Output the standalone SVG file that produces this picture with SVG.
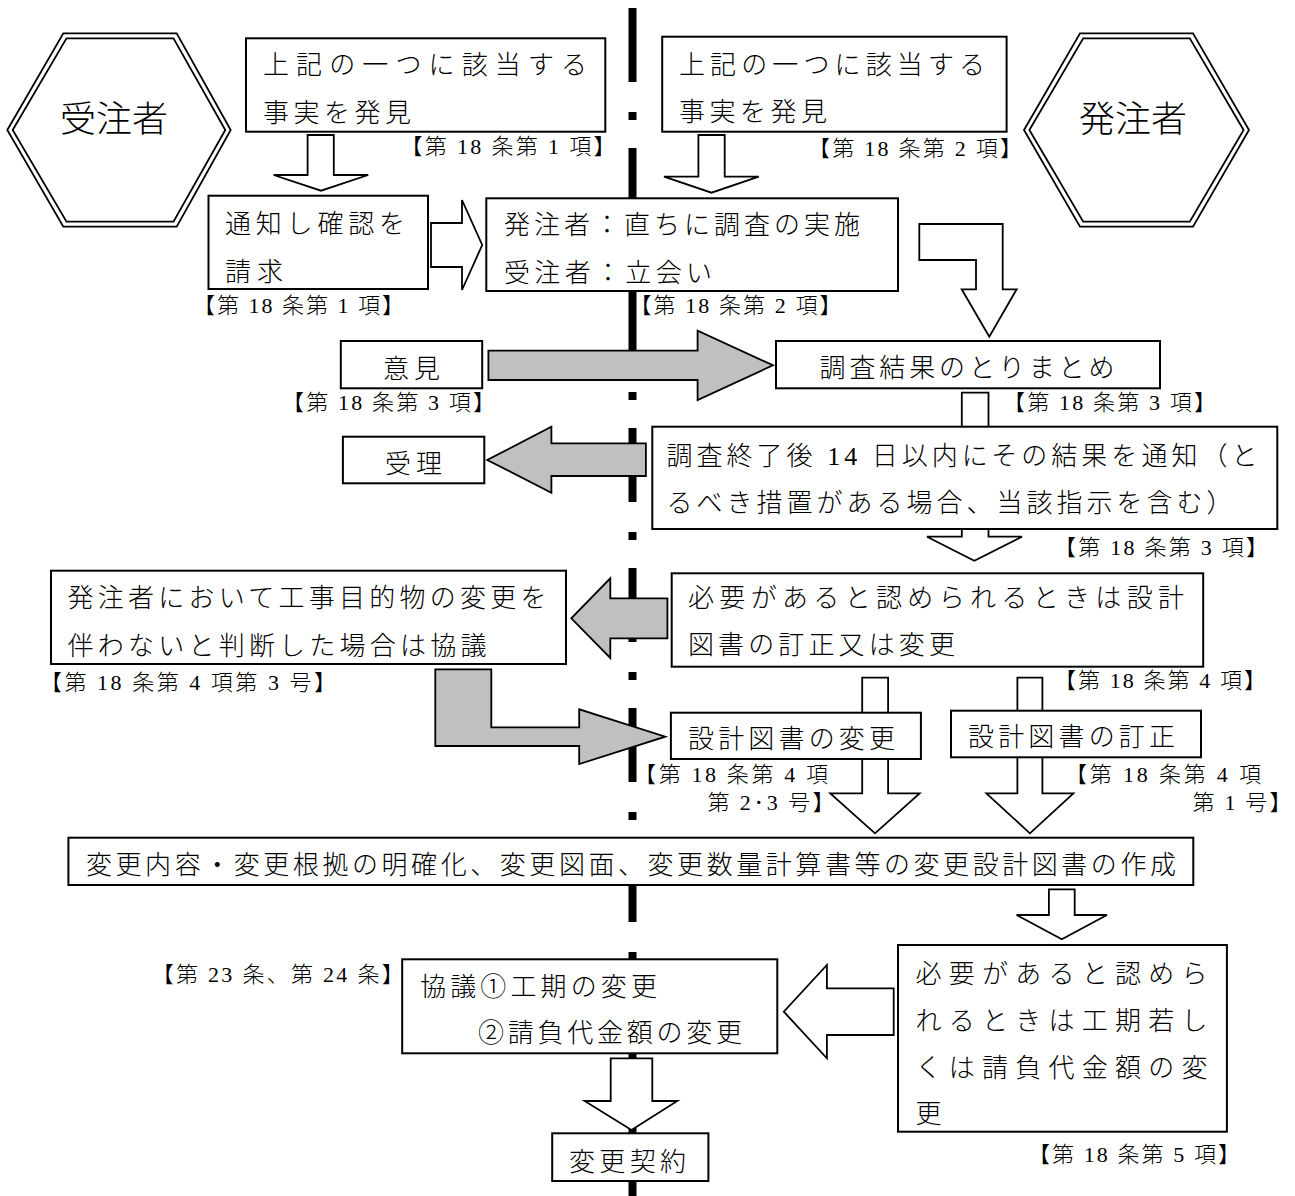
<svg xmlns="http://www.w3.org/2000/svg" width="1295" height="1196" viewBox="0 0 1295 1196">
<style>
.box{fill:#fff;stroke:#000;stroke-width:2}
.hex{fill:#fff;stroke:#000;stroke-width:1.8}
.hexi{fill:none;stroke:#000;stroke-width:1.8}
.hollow{fill:#fff;stroke:#000;stroke-width:1.8}
.gray{fill:#c0c0c0;stroke:#000;stroke-width:1.8}
text{font-family:"Liberation Serif","Noto Sans CJK JP",serif;fill:#000;font-weight:300}
.t{font-size:26px}
.l{font-size:22px}
.h{font-size:36px}
</style>
<g id="divider">
<line x1="632.5" y1="8" x2="632.5" y2="1196" stroke="#000" stroke-width="8" stroke-dasharray="74 30 8 28"/>
</g>
<g id="connectors">
<polygon class="hollow" points="307.6,135 333.8,135 333.8,175 368.2,175 321,190.7 273.6,175 307.6,175"/>
<polygon class="hollow" points="698.4,135 724.7,135 724.7,176.7 758.8,176.7 711.5,192.7 664,176.7 698.4,176.7"/>
<polygon class="hollow" points="431,223 462,223 462,200 482.2,245 462,290 462,267 431,267"/>
<polygon class="hollow" points="919.3,224 1002.7,224 1002.7,289.3 1016.7,289.3 989.3,336.7 961.7,289.3 976,289.3 976,260 919.3,260"/>
<polygon class="hollow" points="961.8,392.7 988.5,392.7 988.5,536.7 1022,536.7 974.3,560.7 927,536.7 961.8,536.7"/>
<polygon class="hollow" points="862.2,677.7 888.1,677.7 888.1,793.3 919.6,793.3 875,833.3 830.3,793.3 862.2,793.3"/>
<polygon class="hollow" points="1017.4,677.7 1042.4,677.7 1042.4,793.3 1073.4,793.3 1029.9,833.3 986.4,793.3 1017.4,793.3"/>
<polygon class="hollow" points="1048.9,889.3 1074.7,889.3 1074.7,915 1107,915 1061.8,939.3 1016.6,915 1048.9,915"/>
<polygon class="hollow" points="893.7,988.3 826.9,988.3 826.9,965 783.8,1011.7 826.9,1058.3 826.9,1035 893.7,1035"/>
<polygon class="hollow" points="610.7,1058.3 652.3,1058.3 652.3,1101 677.3,1101 631.5,1130 584.6,1101 610.7,1101"/>
<polygon class="gray" points="488.4,350.7 697.6,350.7 697.6,330.7 773,365.3 697.6,400 697.6,380 488.4,380"/>
<polygon class="gray" points="645.9,443.3 551.4,443.3 551.4,426.7 487.2,460 551.4,492.7 551.4,476 645.9,476"/>
<polygon class="gray" points="667.4,598.3 610.3,598.3 610.3,578.3 571.3,618.3 610.3,658 610.3,638.3 667.4,638.3"/>
<polygon class="gray" points="435.3,669.3 491.3,669.3 491.3,727.3 579.2,727.3 579.2,709.3 665.3,736.7 579.2,764 579.2,746 435.3,746"/>
</g>
<g id="contractor">
<polygon class="hex" points="7.3,130 63.3,33.3 176.7,33.3 230.7,130 176.7,226.7 63.3,226.7"/>
<polygon class="hexi" points="12.7,130 66.5,38.3 173.5,38.3 225.3,130 173.5,221.7 66.5,221.7"/>
<text class="h" x="114" y="132" text-anchor="middle">受注者</text>
</g>
<g id="owner">
<polygon class="hex" points="1024,130 1080,33.3 1193,33.3 1249,130 1193,226.7 1080,226.7"/>
<polygon class="hexi" points="1029.4,130 1083.2,38.3 1189.8,38.3 1243.6,130 1189.8,221.7 1083.2,221.7"/>
<text class="h" x="1133" y="132" text-anchor="middle">発注者</text>
</g>
<g id="find-contractor">
<rect class="box" x="246" y="38.3" width="359.3" height="93.4"/>
<text class="t" x="263" y="74" textLength="324" lengthAdjust="spacing">上記の一つに該当する</text>
<text class="t" x="263" y="122" textLength="148" lengthAdjust="spacing">事実を発見</text>
</g>
<g id="find-owner">
<rect class="box" x="662.2" y="36.7" width="344.4" height="95"/>
<text class="t" x="679" y="74" textLength="306" lengthAdjust="spacing">上記の一つに該当する</text>
<text class="t" x="679" y="121" textLength="148" lengthAdjust="spacing">事実を発見</text>
</g>
<g id="notify">
<rect class="box" x="208.5" y="195.7" width="219.5" height="93.3"/>
<text class="t" x="225" y="233" textLength="180" lengthAdjust="spacing">通知し確認を</text>
<text class="t" x="225" y="281" textLength="58" lengthAdjust="spacing">請求</text>
</g>
<g id="investigate">
<rect class="box" x="486.3" y="198.3" width="411.7" height="92.7"/>
<text class="t" x="504" y="234" textLength="356" lengthAdjust="spacing">発注者：直ちに調査の実施</text>
<text class="t" x="504" y="282" textLength="208" lengthAdjust="spacing">受注者：立会い</text>
</g>
<g id="opinion">
<rect class="box" x="340.8" y="341" width="141.4" height="47.3"/>
<text class="t" x="383" y="378" textLength="57" lengthAdjust="spacing">意見</text>
</g>
<g id="summary">
<rect class="box" x="776" y="341" width="384" height="47.3"/>
<text class="t" x="819.5" y="377" textLength="295" lengthAdjust="spacing">調査結果のとりまとめ</text>
</g>
<g id="receipt">
<rect class="box" x="342.9" y="436.7" width="141.4" height="46.6"/>
<text class="t" x="385" y="473" textLength="57" lengthAdjust="spacing">受理</text>
</g>
<g id="result-notice">
<rect class="box" x="652.3" y="426.7" width="625" height="102.3"/>
<text class="t" x="666.5" y="465" textLength="591" lengthAdjust="spacing">調査終了後 14 日以内にその結果を通知（と</text>
<text class="t" x="666.5" y="512" textLength="566" lengthAdjust="spacing">るべき措置がある場合、当該指示を含む）</text>
</g>
<g id="consult">
<rect class="box" x="51" y="570.7" width="515" height="93.3"/>
<text class="t" x="67.5" y="607" textLength="479" lengthAdjust="spacing">発注者において工事目的物の変更を</text>
<text class="t" x="67.5" y="655" textLength="419" lengthAdjust="spacing">伴わないと判断した場合は協議</text>
</g>
<g id="revise">
<rect class="box" x="671.7" y="573.3" width="531.5" height="93.4"/>
<text class="t" x="688" y="607" textLength="496" lengthAdjust="spacing">必要があると認められるときは設計</text>
<text class="t" x="688" y="654" textLength="267" lengthAdjust="spacing">図書の訂正又は変更</text>
</g>
<g id="change">
<rect class="box" x="670.9" y="712.7" width="250" height="46.3"/>
<text class="t" x="688" y="748" textLength="207" lengthAdjust="spacing">設計図書の変更</text>
</g>
<g id="correct">
<rect class="box" x="951" y="710.7" width="250" height="46.6"/>
<text class="t" x="968" y="746" textLength="207" lengthAdjust="spacing">設計図書の訂正</text>
</g>
<g id="prepare">
<rect class="box" x="68.4" y="837.7" width="1124.9" height="47.3"/>
<text class="t" x="86" y="874" textLength="1090" lengthAdjust="spacing">変更内容・変更根拠の明確化、変更図面、変更数量計算書等の変更設計図書の作成</text>
</g>
<g id="negotiate">
<rect class="box" x="402.2" y="959.3" width="375.1" height="94"/>
<text class="t" x="420" y="996" textLength="237" lengthAdjust="spacing">協議①工期の変更</text>
<text class="t" x="478" y="1042" textLength="264" lengthAdjust="spacing">②請負代金額の変更</text>
</g>
<g id="term-change">
<rect class="box" x="898" y="945" width="328.9" height="186.7"/>
<text class="t" x="915.5" y="983" textLength="292" lengthAdjust="spacing">必要があると認めら</text>
<text class="t" x="915.5" y="1030" textLength="292" lengthAdjust="spacing">れるときは工期若し</text>
<text class="t" x="915.5" y="1077" textLength="292" lengthAdjust="spacing">くは請負代金額の変</text>
<text class="t" x="915.5" y="1123">更</text>
</g>
<g id="contract">
<rect class="box" x="552.2" y="1133.3" width="156.2" height="47.7"/>
<text class="t" x="569" y="1171" textLength="117" lengthAdjust="spacing">変更契約</text>
</g>
<g id="refs">
<text class="l" x="400.5" y="154" textLength="215" lengthAdjust="spacing">【第 18 条第 1 項】</text>
<text class="l" x="808" y="155.5" textLength="214" lengthAdjust="spacing">【第 18 条第 2 項】</text>
<text class="l" x="193" y="313" textLength="211" lengthAdjust="spacing">【第 18 条第 1 項】</text>
<text class="l" x="629.5" y="313" textLength="212" lengthAdjust="spacing">【第 18 条第 2 項】</text>
<text class="l" x="282" y="409.5" textLength="213" lengthAdjust="spacing">【第 18 条第 3 項】</text>
<text class="l" x="1003" y="410" textLength="213" lengthAdjust="spacing">【第 18 条第 3 項】</text>
<text class="l" x="1054" y="555" textLength="214" lengthAdjust="spacing">【第 18 条第 3 項】</text>
<text class="l" x="40" y="690" textLength="296" lengthAdjust="spacing">【第 18 条第 4 項第 3 号】</text>
<text class="l" x="1054" y="688" textLength="212" lengthAdjust="spacing">【第 18 条第 4 項】</text>
<text class="l" x="634" y="782" textLength="194" lengthAdjust="spacing">【第 18 条第 4 項</text>
<text class="l" x="707.5" y="810" textLength="127" lengthAdjust="spacing">第 2･3 号】</text>
<text class="l" x="1065" y="782" textLength="196" lengthAdjust="spacing">【第 18 条第 4 項</text>
<text class="l" x="1192.5" y="810" textLength="99" lengthAdjust="spacing">第 1 号】</text>
<text class="l" x="151.7" y="982" textLength="252" lengthAdjust="spacing">【第 23 条、第 24 条】</text>
<text class="l" x="1028" y="1162" textLength="212" lengthAdjust="spacing">【第 18 条第 5 項】</text>
</g>
</svg>
